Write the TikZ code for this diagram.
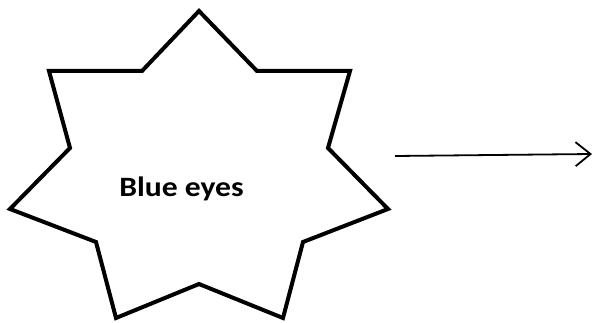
\documentclass[tikz,border=0pt]{standalone}
\usepackage{fontspec}
\setmainfont{Carlito}
\usetikzlibrary{arrows.meta}

\begin{document}
\begin{tikzpicture}[
  x=1pt, y=-1pt,
  heptastar/.style={draw, line width=4pt, line join=miter},
  lbl/.style={font=\bfseries\fontsize{28}{33}\selectfont\addfontfeature{FakeStretch=1.13},
              anchor=base, inner sep=0pt},
  arr/.style={-{Straight Barb[length=15pt, width=24pt]}, line width=1.8pt}
]
\useasboundingbox (0,0) rectangle (595,323);
% seven-point star
\draw[heptastar] (199,11) -- (257,71) -- (350,71) -- (328,148) -- (388,209)
  -- (303,242) -- (283,318) -- (199,284) -- (116,318) -- (96,242)
  -- (10,209) -- (70,148) -- (49,71) -- (142,71) -- cycle;
\node[lbl] (eyes) at (181.5,197) {Blue eyes};
\coordinate (from) at (395,156);
\coordinate (to) at (592,154);
\draw[arr] (from) -- (to);
\end{tikzpicture}
\end{document}
